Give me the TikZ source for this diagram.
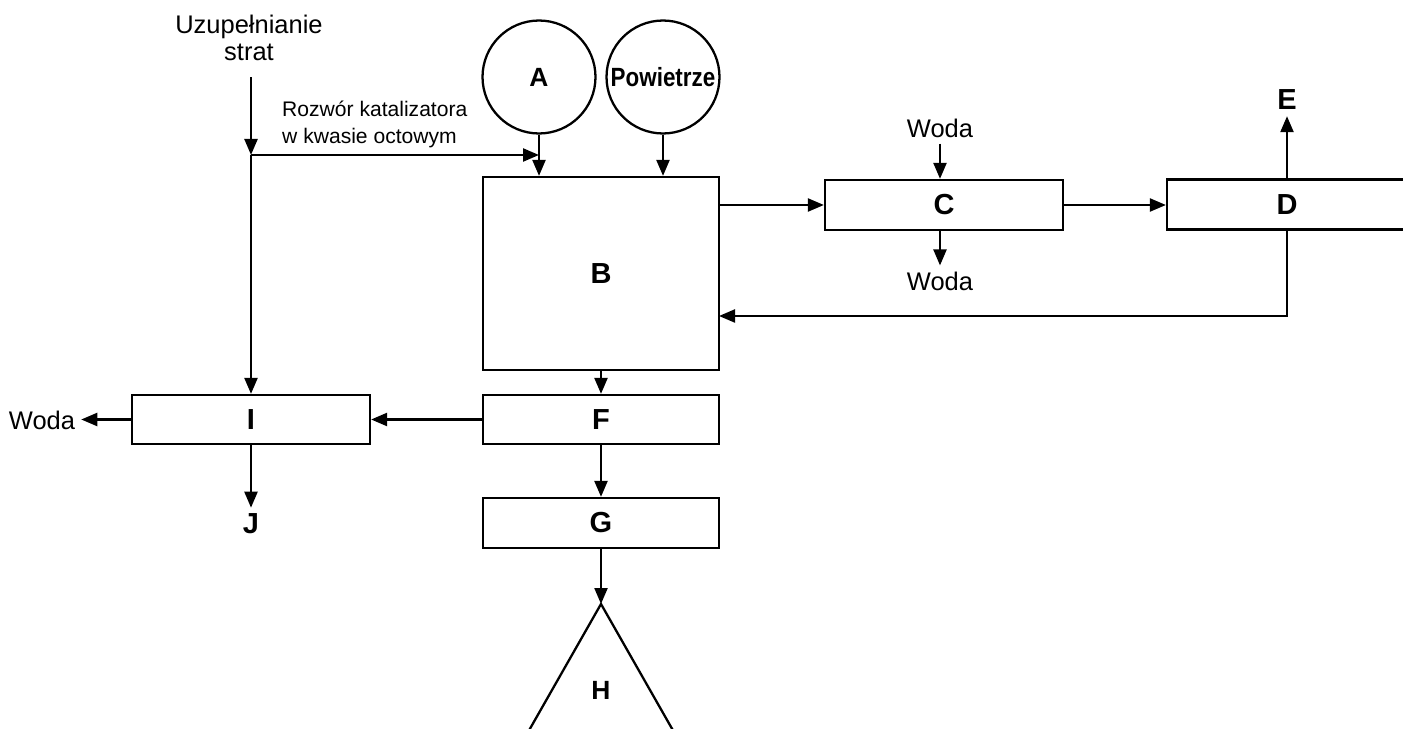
\documentclass[tikz,border=0pt]{standalone}
\usepackage{fontspec}
\setmainfont{Liberation Sans}
\usetikzlibrary{arrows.meta,positioning}

\tikzset{
  flow/.style={-{Triangle[length=3.2mm,width=2.6mm]}, line width=1.3pt},
  unit/.style={draw, line width=1.3pt, inner sep=0pt, minimum height=1cm, font=\fontsize{16.5}{18}\selectfont\bfseries},
  tank/.style={draw, circle, line width=1.3pt, inner sep=0pt, minimum size=2.26cm, font=\fontsize{15}{16}\selectfont\bfseries},
  txt/.style={font=\fontsize{14.5}{15.4}\selectfont, align=center},
  tag/.style={font=\fontsize{16.5}{18}\selectfont\bfseries},
  small/.style={font=\fontsize{12}{15.4}\selectfont, align=left},
}

\begin{document}
\begin{tikzpicture}[x=0.02cm,y=-0.02cm]
\useasboundingbox (0,0) rectangle (1403,729);
\clip (0,0) rectangle (1403,729);
\node[tank] (A) at (539,77) {A};
\node[tank] (P) at (663,77) {\scalebox{0.85}[1]{Powietrze}};
\node[unit, minimum width=4.72cm, minimum height=3.86cm] (B) at (601,273.5) {B};
\node[unit, minimum width=4.76cm] (C) at (944,205) {C};
\node[unit, minimum width=4.8cm] (D) at (1287,204.5) {D};
\node[unit, minimum width=4.72cm, minimum height=0.98cm] (F) at (601,419.5) {F};
\node[unit, minimum width=4.72cm] (G) at (601,523) {G};
\node[unit, minimum width=4.76cm, minimum height=0.98cm] (I) at (251,419.5) {I};
\node[txt] (uz) at (249,38) {Uzupełnianie\\strat};
\node[small, anchor=west] (cat) at (276,124) {Rozwór katalizatora\\w kwasie octowym};
\node[txt] (wtop) at (940,128) {Woda};
\node[txt] (wbot) at (940,281) {Woda};
\node[txt] (wl) at (42,420) {Woda};
\node[tag] (E) at (1287,100) {E};
\node[tag] (J) at (251,524) {J};
\node[tag, font=\fontsize{15}{16}\selectfont\bfseries] (H) at (601,690) {H};
\coordinate (split) at (251,155);
\coordinate (Bin) at (719,316);
\coordinate (top) at (601,604);
\draw[line width=1.3pt] (519,748) -- (top) -- (683,748);
\draw[flow] ([yshift=-0.2cm]split |- uz.south) -- (split);
\draw[flow] (split) -- (I.north);
\draw[flow] (split) -- (split -| A);
\draw[flow] (A) -- (A |- B.north);
\draw[flow] (P) -- (P |- B.north);
\draw[flow] (B.east |- C.west) -- (C.west);
\draw[flow] (C.east) -- (C.east -| D.west);
\draw[flow] (wtop.south) -- (wtop.south |- C.north);
\draw[flow] (wbot.north |- C.south) -- (wbot.north);
\draw[flow] (D.north) -- (E.south);
\draw[flow] (D.south) |- (Bin);
\draw[flow] (B.south) -- (F.north);
\draw[flow] (F.west) -- (I.east);
\draw[flow] (I.west) -- (I.west -| wl.east);
\draw[flow] (I.south) -- (J.north);
\draw[flow] (F.south) -- (G.north);
\draw[flow] (G.south) -- (top);
\end{tikzpicture}
\end{document}
